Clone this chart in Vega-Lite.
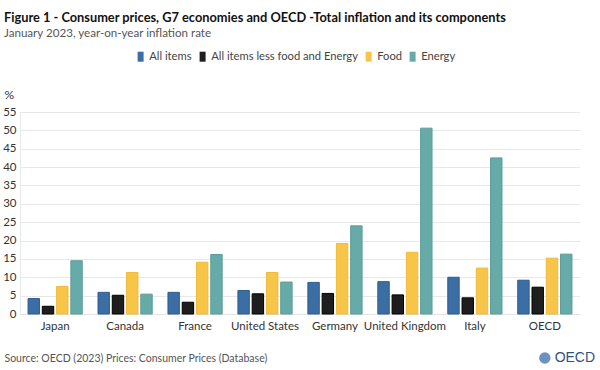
{
  "$schema": "https://vega.github.io/schema/vega-lite/v6.json",
  "autosize": "none",
  "width": 560,
  "height": 202,
  "padding": {"left": 20, "top": 112, "right": 20, "bottom": 56},
  "background": "white",
  "title": {
    "text": "Figure 1 - Consumer prices, G7 economies and OECD -Total inflation and its components",
    "subtitle": "January 2023, year-on-year inflation rate",
    "anchor": "start",
    "frame": "group",
    "dx": -16,
    "font": "Lato",
    "fontSize": 12.8,
    "fontWeight": "bold",
    "color": "#111111",
    "subtitleFont": "Lato",
    "subtitleFontSize": 11.6,
    "subtitleColor": "#555555",
    "subtitlePadding": 4,
    "offset": 11
  },
  "config": {
    "view": {"stroke": null},
    "font": "Lato",
    "axisY": {
      "titleAngle": 0,
      "titleAlign": "left",
      "titleBaseline": "alphabetic",
      "titleX": -16,
      "titleY": -14,
      "titleFont": "Lato",
      "titleFontSize": 12,
      "titleFontWeight": "normal",
      "titleColor": "#333333",
      "labelFont": "Lato",
      "labelFontSize": 11.5,
      "labelColor": "#333333",
      "labelPadding": 4,
      "ticks": false,
      "domain": true,
      "domainColor": "#e8e8e8",
      "gridColor": "#e8e8e8",
      "gridWidth": 1,
      "labelOverlap": false
    }
  },
  "layer": [
    {
      "data": {
        "values": [
          {"country": "Japan", "component": "All items", "value": 4.2},
          {"country": "Japan", "component": "All items less food and Energy", "value": 2.1},
          {"country": "Japan", "component": "Food", "value": 7.5},
          {"country": "Japan", "component": "Energy", "value": 14.5},
          {"country": "Canada", "component": "All items", "value": 5.9},
          {"country": "Canada", "component": "All items less food and Energy", "value": 5.1},
          {"country": "Canada", "component": "Food", "value": 11.3},
          {"country": "Canada", "component": "Energy", "value": 5.4},
          {"country": "France", "component": "All items", "value": 5.9},
          {"country": "France", "component": "All items less food and Energy", "value": 3.2},
          {"country": "France", "component": "Food", "value": 14.1},
          {"country": "France", "component": "Energy", "value": 16.2},
          {"country": "United States", "component": "All items", "value": 6.4},
          {"country": "United States", "component": "All items less food and Energy", "value": 5.5},
          {"country": "United States", "component": "Food", "value": 11.3},
          {"country": "United States", "component": "Energy", "value": 8.7},
          {"country": "Germany", "component": "All items", "value": 8.6},
          {"country": "Germany", "component": "All items less food and Energy", "value": 5.6},
          {"country": "Germany", "component": "Food", "value": 19.2},
          {"country": "Germany", "component": "Energy", "value": 24.0},
          {"country": "United Kingdom", "component": "All items", "value": 8.8},
          {"country": "United Kingdom", "component": "All items less food and Energy", "value": 5.2},
          {"country": "United Kingdom", "component": "Food", "value": 16.8},
          {"country": "United Kingdom", "component": "Energy", "value": 50.6},
          {"country": "Italy", "component": "All items", "value": 10.0},
          {"country": "Italy", "component": "All items less food and Energy", "value": 4.4},
          {"country": "Italy", "component": "Food", "value": 12.5},
          {"country": "Italy", "component": "Energy", "value": 42.5},
          {"country": "OECD", "component": "All items", "value": 9.2},
          {"country": "OECD", "component": "All items less food and Energy", "value": 7.3},
          {"country": "OECD", "component": "Food", "value": 15.2},
          {"country": "OECD", "component": "Energy", "value": 16.3}
        ]
      },
      "mark": {"type": "bar", "strokeWidth": 1},
      "encoding": {
        "x": {
          "field": "country",
          "type": "nominal",
          "sort": null,
          "scale": {"paddingInner": 0.225, "paddingOuter": 0.115},
          "axis": {
            "title": "Source: OECD (2023) Prices: Consumer Prices (Database)",
            "titleFont": "Lato",
            "titleFontSize": 10.5,
            "titleFontWeight": "normal",
            "titleColor": "#555555",
            "titleAlign": "left",
            "titleAnchor": "start",
            "titleX": -16,
            "titleY": 47,
            "titleBaseline": "alphabetic",
            "labelAngle": 0,
            "labelFont": "Lato",
            "labelFontSize": 11.5,
            "labelColor": "#333333",
            "labelPadding": 6,
            "ticks": false,
            "domainColor": "#e3e3e3",
            "grid": false
          }
        },
        "xOffset": {
          "field": "component",
          "type": "nominal",
          "sort": ["All items", "All items less food and Energy", "Food", "Energy"],
          "scale": {"paddingInner": 0.2}
        },
        "y": {
          "field": "value",
          "type": "quantitative",
          "scale": {"domain": [0, 55], "nice": false},
          "axis": {"title": "%", "values": [0, 5, 10, 15, 20, 25, 30, 35, 40, 45, 50, 55]}
        },
        "color": {
          "field": "component",
          "type": "nominal",
          "sort": ["All items", "All items less food and Energy", "Food", "Energy"],
          "scale": {
            "domain": ["All items", "All items less food and Energy", "Food", "Energy"],
            "range": ["#3a6ea5", "#1e1e1e", "#f7c548", "#67aba8"]
          },
          "legend": {
            "title": null,
            "orient": "none",
            "direction": "horizontal",
            "legendX": 115,
            "legendY": -61,
            "labelFont": "Lato",
            "labelFontSize": 11.2,
            "labelColor": "#444444",
            "labelLimit": 0,
            "symbolType": "M-0.6,-1H0.6V1H-0.6Z",
            "symbolSize": 100,
            "symbolStrokeWidth": 0,
            "columnPadding": 5,
            "labelOffset": 3
          }
        },
        "stroke": {
          "field": "component",
          "type": "nominal",
          "scale": {
            "domain": ["All items", "All items less food and Energy", "Food", "Energy"],
            "range": ["#2f5d8e", "#000000", "#f0ba3a", "#5b9c99"]
          },
          "legend": null
        }
      }
    },
    {
      "data": {"values": [{"label": "OECD"}]},
      "mark": {"type": "text", "font": "Liberation Sans", "fontSize": 14, "color": "#2f5180", "dx": 30, "align": "center", "baseline": "middle"},
      "encoding": {
        "x": {"datum": "OECD"},
        "y": {"datum": -12, "axis": {"title": "%", "values": [0, 5, 10, 15, 20, 25, 30, 35, 40, 45, 50, 55]}},
        "text": {"field": "label"}
      }
    },
    {
      "data": {"values": [{"label": "logo"}]},
      "mark": {"type": "point", "filled": true, "size": 130, "color": "#2e64a8"},
      "encoding": {
        "x": {"datum": "OECD"},
        "y": {"datum": -12, "axis": {"title": "%", "values": [0, 5, 10, 15, 20, 25, 30, 35, 40, 45, 50, 55]}}
      }
    }
  ],
  "resolve": {"scale": {"color": "independent", "stroke": "independent"}}
}
